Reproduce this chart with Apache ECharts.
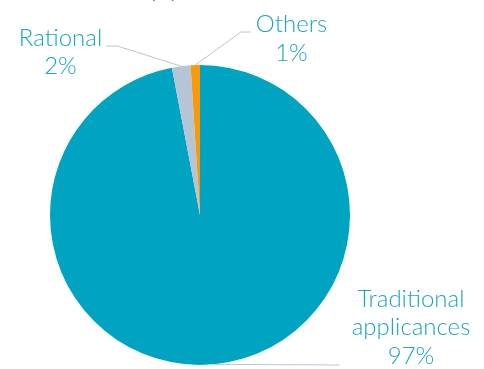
<!DOCTYPE html>
<html>
<head>
<meta charset="utf-8">
<style>html,body{margin:0;padding:0;background:#fff;}#c{width:484px;height:369px;}</style>
<script src="https://cdn.jsdelivr.net/npm/echarts@6/dist/echarts.min.js"></script>
</head>
<body>
<div id="c"></div>
<script>
var titleText = 'Appliances';
var categories = ['Traditional\napplicances', 'Rational', 'Others'];
var values = [97, 2, 1];
var colors = ['#00A4C0', '#B5C5D5', '#F7990A'];

var textColor = '#1AA5C1';
var FONT = 'Lato';

var chart = echarts.init(document.getElementById('c'));

// label placement (layout only)
var labelPos = [
  {x: 411, y: 327.5},
  {x: 60.5, y: 52.5},
  {x: 291.5, y: 39}
];

chart.setOption({
  animation: false,
  title: {
    text: titleText, left: 123, top: -38,
    textStyle: {color: textColor, fontFamily: FONT, fontSize: 34, fontWeight: 300}
  },
  series: [{
    type: 'pie',
    center: [200, 215],
    radius: 150,
    startAngle: 90,
    clockwise: true,
    data: categories.map(function (c, i) {
      return {name: c, value: values[i], itemStyle: {color: colors[i]}};
    }),
    label: {
      show: true,
      position: 'outside',
      overflow: 'none',
      formatter: function (p) { return p.name + '\n' + Math.round(p.percent) + '%'; },
      color: textColor, fontFamily: FONT, fontSize: 24, lineHeight: 28.5, fontWeight: 300,
      align: 'center'
    },
    labelLine: {show: true, lineStyle: {color: '#B6C6D6', width: 1}},
    labelLayout: function (params) {
      var i = params.dataIndex;
      var pos = labelPos[i];
      var w = params.labelRect.width;
      var a = params.labelLinePoints ? params.labelLinePoints[0] : [0, 0];
      var pts;
      if (i === 0) {
        pts = [a, [pos.x - w / 2 - 12, pos.y + 37.5]];
      } else if (i === 1) {
        pts = [a, [pos.x + w / 2 + 15, pos.y - 6.5], [pos.x + w / 2 + 4, pos.y - 6.5]];
      } else {
        pts = [a, [pos.x - w / 2 - 15, pos.y - 7], [pos.x - w / 2 - 5, pos.y - 7]];
      }
      return {x: pos.x, y: pos.y, align: 'center', verticalAlign: 'middle', labelLinePoints: pts};
    }
  }]
});
</script>
</body>
</html>
